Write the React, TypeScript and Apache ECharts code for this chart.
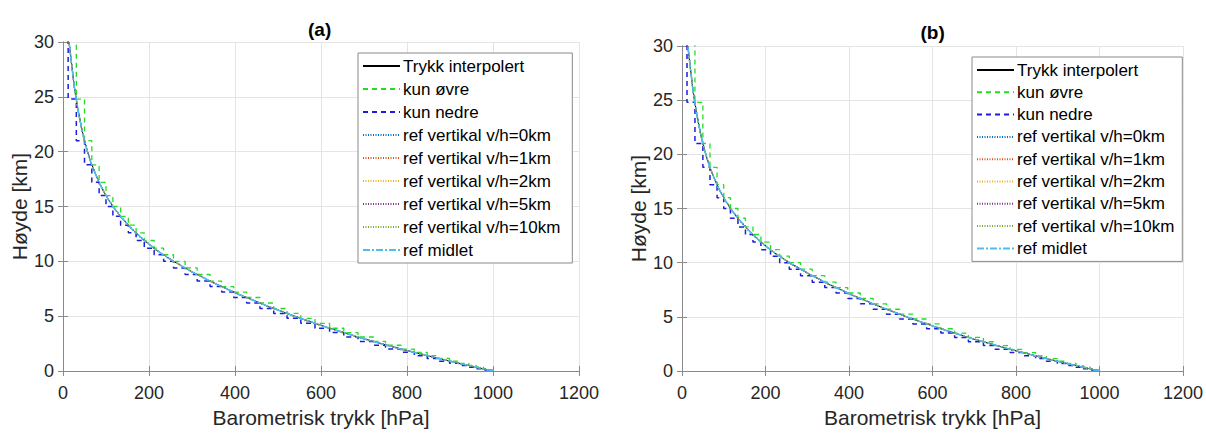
import React, { useEffect, useRef } from "react";
import * as echarts from "echarts";

// Interpolated pressure profile (height km -> pressure hPa)
const HEIGHTS_KM = [0, 1, 2, 3, 4, 5, 6, 7, 8, 9, 10, 11, 12, 13, 14, 15, 16, 17, 18, 19, 20, 21, 22, 23, 24, 25, 26, 27, 28, 29, 30];
const P_INTERP = [1000, 888, 786, 694, 612, 538, 470, 408, 352, 302, 257, 218, 186, 159, 136, 116, 100, 86, 75, 65, 57, 50, 44, 39, 34, 30, 26, 23, 20, 17, 14];

// Model levels used by the step profiles
const LEVEL_H = [0, 0.1, 0.2, 0.35, 0.5, 0.7, 0.9, 1.15, 1.4, 1.7, 2.0, 2.35, 2.7, 3.1, 3.5, 3.9, 4.35, 4.8, 5.25, 5.7, 6.2, 6.7, 7.2, 7.7, 8.2, 8.8, 9.4, 10.0, 10.6, 11.2, 11.9, 12.6, 13.3, 14.1, 15.0, 16.0, 17.2, 18.8, 21.0, 24.8, 31.0];
const LEVEL_P = [1000, 989, 978, 961, 944, 921, 899, 873, 847, 817, 786, 750, 722, 686, 653, 620, 586, 553, 521, 490, 458, 427, 397, 369, 342, 312, 284, 257, 234, 212, 189, 170, 152, 134, 116, 100, 84, 67, 50, 31, 12];

// Reference profiles (coincide with interpolated curve in the figure)
const P_REF_0KM = P_INTERP;
const P_REF_1KM = P_INTERP;
const P_REF_2KM = P_INTERP;
const P_REF_5KM = P_INTERP;
const P_REF_10KM = P_INTERP;
const P_REF_MEAN = P_INTERP;

const X_TICKS = [0, 200, 400, 600, 800, 1000, 1200];
const Y_TICKS = [0, 5, 10, 15, 20, 25, 30];
const PANEL_TITLES = ["(a)", "(b)"];

const NAMES = [
  "Trykk interpolert",
  "kun øvre",
  "kun nedre",
  "ref vertikal v/h=0km",
  "ref vertikal v/h=1km",
  "ref vertikal v/h=2km",
  "ref vertikal v/h=5km",
  "ref vertikal v/h=10km",
  "ref midlet",
];

const FONT = "'Liberation Sans', Arial, Helvetica, sans-serif";
const TXT = "#262626";

function pairs(p: number[], h: number[]) {
  return p.map((v, i) => [v, h[i]]);
}
function stepUpper() {
  const out: number[][] = [];
  for (let i = 0; i < LEVEL_H.length - 1; i++) {
    out.push([LEVEL_P[i], LEVEL_H[i]]);
    out.push([LEVEL_P[i], LEVEL_H[i + 1]]);
  }
  return out;
}
function stepLower() {
  const out: number[][] = [];
  for (let i = 0; i < LEVEL_H.length - 1; i++) {
    out.push([LEVEL_P[i + 1], LEVEL_H[i]]);
    out.push([LEVEL_P[i + 1], LEVEL_H[i + 1]]);
  }
  return out;
}

function seriesFor(k: number) {
  const base = {
    type: "line" as const,
    xAxisIndex: k * 2,
    yAxisIndex: k * 2,
    showSymbol: false,
    symbol: "none",
    itemStyle: { opacity: 0 },
    clip: true,
    silent: true,
  };
  return [
    { ...base, name: NAMES[0], data: pairs(P_INTERP, HEIGHTS_KM), lineStyle: { color: "#000000", width: 1, type: "solid" } },
    { ...base, name: NAMES[1], data: stepUpper(), lineStyle: { color: "#22dd22", width: 1.3, type: [5, 4] } },
    { ...base, name: NAMES[2], data: stepLower(), lineStyle: { color: "#1c1cdc", width: 1.5, type: [5, 4] } },
    { ...base, name: NAMES[3], data: pairs(P_REF_0KM, HEIGHTS_KM), lineStyle: { color: "#0072BD", width: 1.2, type: [1, 1.5] } },
    { ...base, name: NAMES[4], data: pairs(P_REF_1KM, HEIGHTS_KM), lineStyle: { color: "#D95319", width: 1.2, type: [1, 1.5] } },
    { ...base, name: NAMES[5], data: pairs(P_REF_2KM, HEIGHTS_KM), lineStyle: { color: "#EDB120", width: 1.2, type: [1, 1.5] } },
    { ...base, name: NAMES[6], data: pairs(P_REF_5KM, HEIGHTS_KM), lineStyle: { color: "#7E2F8E", width: 1.2, type: [1, 1.5] } },
    { ...base, name: NAMES[7], data: pairs(P_REF_10KM, HEIGHTS_KM), lineStyle: { color: "#77AC30", width: 1.2, type: [1, 1.5] } },
    { ...base, name: NAMES[8], data: pairs(P_REF_MEAN, HEIGHTS_KM), lineStyle: { color: "#4DBEEE", width: 1.6, type: [7, 2, 2, 2] } },
  ];
}

const GRIDS = [
  { left: 63, top: 42, width: 516, height: 332 },
  { left: 682, top: 46, width: 503, height: 325 },
];

export default function App() {
  const ref = useRef<HTMLDivElement>(null);
  useEffect(() => {
    if (!ref.current) return;
    const chart = echarts.init(ref.current, undefined, { renderer: "svg" });
    const xMin = X_TICKS[0], xMax = X_TICKS[X_TICKS.length - 1];
    const yMin = Y_TICKS[0], yMax = Y_TICKS[Y_TICKS.length - 1];
    const xInt = X_TICKS[1] - X_TICKS[0];
    const yInt = Y_TICKS[1] - Y_TICKS[0];
    const axisLine = { show: true, lineStyle: { color: "#8a8a8a", width: 1 } };
    const tick = { show: true, inside: true, length: 5, lineStyle: { color: "#8a8a8a" } };
    const fmt = (v: number) => String(v);
    const xAxes: any[] = [];
    const yAxes: any[] = [];
    GRIDS.forEach((_, k) => {
      xAxes.push({
        gridIndex: k, type: "value", position: "bottom", min: xMin, max: xMax, interval: xInt,
        name: "Barometrisk trykk [hPa]", nameLocation: "middle", nameGap: 36,
        nameTextStyle: { fontFamily: FONT, fontSize: 21, color: TXT },
        axisLine, axisTick: tick,
        axisLabel: { fontFamily: FONT, fontSize: 18, color: TXT, margin: 13, formatter: fmt },
        splitLine: { show: true, lineStyle: { color: "#e4e4e4", width: 1 } },
      });
      xAxes.push({
        gridIndex: k, type: "value", position: "top", min: xMin, max: xMax, interval: xInt,
        axisLine, axisTick: tick,
        axisLabel: { show: false }, splitLine: { show: false },
      });
      yAxes.push({
        gridIndex: k, type: "value", position: "left", min: yMin, max: yMax, interval: yInt,
        name: "Høyde [km]", nameLocation: "middle", nameGap: 31,
        nameTextStyle: { fontFamily: FONT, fontSize: 21, color: TXT },
        axisLine, axisTick: tick,
        axisLabel: { fontFamily: FONT, fontSize: 18, color: TXT, margin: 9, formatter: fmt },
        splitLine: { show: true, lineStyle: { color: "#e4e4e4", width: 1 } },
      });
      yAxes.push({
        gridIndex: k, type: "value", position: "right", min: yMin, max: yMax, interval: yInt,
        axisLine, axisTick: tick,
        axisLabel: { show: false }, splitLine: { show: false },
      });
    });
    const legendCommon = {
      orient: "vertical",
      data: NAMES,
      itemWidth: 37,
      itemHeight: 14,
      backgroundColor: "#ffffff",
      borderColor: "#8a8a8a",
      borderWidth: 1,
      borderRadius: 0,
      selectedMode: false,
      itemStyle: { opacity: 0 },
      textStyle: { fontFamily: FONT, fontSize: 17, color: "#000000", lineHeight: 20, padding: [0, 0, 0, -2] },
    };
    chart.setOption({
      animation: false,
      backgroundColor: "#ffffff",
      title: PANEL_TITLES.map((t, k) => ({
        text: t,
        left: GRIDS[k].left + GRIDS[k].width / 2 - 13,
        top: k === 0 ? 20 : 23,
        padding: 0,
        textStyle: { fontFamily: FONT, fontSize: 19, fontWeight: "bold", color: "#000000" },
      })),
      grid: GRIDS.map((g) => ({ ...g, containLabel: false })),
      xAxis: xAxes,
      yAxis: yAxes,
      legend: [
        { ...legendCommon, left: 358, top: 53, itemGap: 3, padding: [3, 12, 3, 4] },
        { ...legendCommon, left: 972, top: 57, itemGap: 2.3, padding: [3, 8, 3, 4] },
      ],
      series: [...seriesFor(0), ...seriesFor(1)],
    });
    return () => chart.dispose();
  }, []);
  return (
    <div
      ref={ref}
      style={{ position: "absolute", left: 0, top: 0, width: 1206, height: 433, background: "#fff" }}
    />
  );
}
